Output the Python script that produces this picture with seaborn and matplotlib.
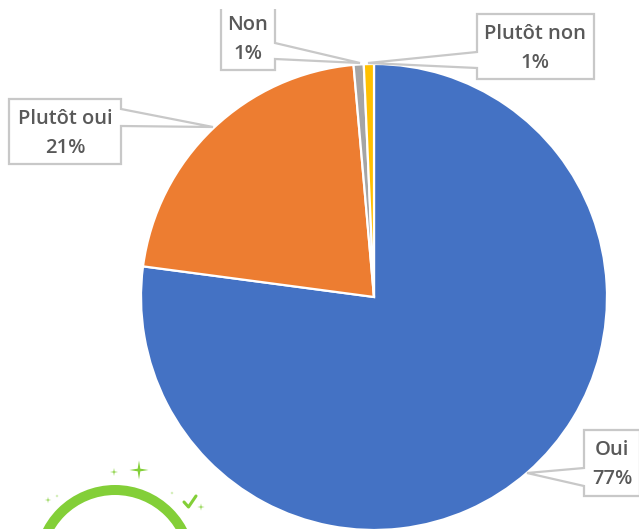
import matplotlib
matplotlib.use("Agg")
import matplotlib.pyplot as plt
from matplotlib.patches import Circle, Polygon
import seaborn as sns

categories = ["Oui", "Plutôt oui", "Non", "Plutôt non"]
shares = [77.1, 21.5, 0.7, 0.7]
pct_labels = ["77%", "21%", "1%", "1%"]
colors = ["#4472C4", "#ED7D31", "#A5A5A5", "#FFC000"]

sns.set_theme(style="white")
plt.rcParams["font.family"] = ["Open Sans", "DejaVu Sans"]

W, H = 639, 529
fig = plt.figure(figsize=(W / 100, H / 100), dpi=100)
ax = fig.add_axes([0, 0, 1, 1])


def Y(y):
    return H - y


ax.pie(shares, colors=sns.color_palette(colors), startangle=90, counterclock=False,
       center=(374, Y(297)), radius=233,
       wedgeprops=dict(edgecolor="white", linewidth=1.6))
ax.set_xlim(0, W)
ax.set_ylim(0, H)
ax.set_aspect("equal")
ax.axis("off")

# callouts: outline path in pixels, label centre
callouts = {
    "Oui": ([(640, 430), (584, 430), (584, 468), (527, 473), (584, 486), (584, 496), (640, 496)], (612, 450), (612, 479)),
    "Plutôt oui": ([(9, 99), (121, 99), (121, 109), (213, 127), (121, 126), (121, 164), (9, 164)], (65, 119), (65, 148)),
    "Non": ([(221, 9), (221, 70), (275, 70), (275, 59), (360, 63), (275, 43), (275, 9)], (248, 25), (248, 54)),
    "Plutôt non": ([(477, 14), (594, 14), (594, 79), (477, 79), (477, 68), (368, 63), (477, 52)], (535, 34), (535, 63)),
}
for cat, pct in zip(categories, pct_labels):
    pts, p1, p2 = callouts[cat]
    ax.add_patch(Polygon([(x, Y(y)) for x, y in pts], closed=cat != "Non",
                         facecolor="white", edgecolor="#C8C8C8", linewidth=1.6, zorder=3, clip_on=True))
    for txt, p in ((cat, p1), (pct, p2)):
        ax.text(p[0], Y(p[1]), txt, ha="center", va="center", fontsize=14.5,
                fontweight="semibold", color="#595959", zorder=4)

# green badge decoration at the bottom
green = "#83CF38"
ax.add_patch(Circle((115, Y(566)), 76, facecolor="none", edgecolor=green, linewidth=7.2, zorder=2))
for x, y, r in [(139, 470, 9.5), (114, 472, 4), (48, 500, 3.2), (57, 496, 1.7), (172, 493, 1.7), (201, 507, 3.6)]:
    k = r * 0.14
    star = [(x, y - r), (x + k, y - k), (x + r, y), (x + k, y + k), (x, y + r), (x - k, y + k), (x - r, y), (x - k, y - k)]
    ax.add_patch(Polygon([(a, Y(b)) for a, b in star], closed=True, facecolor=green, edgecolor="none", zorder=2))
ax.plot([184, 188.5, 196], [Y(502), Y(507), Y(496)], color=green, lw=2.2, solid_capstyle="round", zorder=2)

fig.savefig("out.png", dpi=100, facecolor="white")
